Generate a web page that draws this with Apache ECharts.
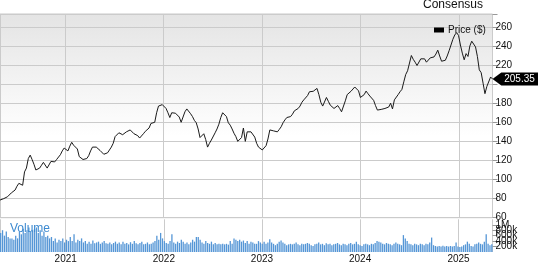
<!DOCTYPE html>
<html>
<head>
<meta charset="utf-8">
<script src="https://cdn.jsdelivr.net/npm/echarts@6/dist/echarts.min.js"></script>
<style>html,body{margin:0;padding:0;background:#fff}#c{width:538px;height:264px}</style>
</head>
<body>
<div id="c"></div>
<script>
// Weekly series starting on this date (UTC)
const startDate = '2020-05-04';
const priceValues = [
78.5,79,80,81,82,84,86,87.5,89,93,96,97,94,108,112,122,125.6,121,116,110,
109,112,115,118,117,112,111,119,118,118.5,121,123,126,130,133,134,130,135,139,136,
137,132,124,122,121,121,122,125,130,134,134.5,134,132,130.5,129,126.5,126.5,128,131,134,
138,145,147,149,148,147,148,150,149,152,151,148,147,146,143.5,145,148,150.5,152,154,
158.8,160.5,160,170,177,176,178.5,176.5,174.5,170,165,170,171,169.5,168,165.5,160,162,171,174,
172.5,169,166,162,159.5,153,144,145,148,142,134,138,141.4,143,149,153,158,165,170,172,
166,159.5,157,153,148.5,145,140,140.6,144,154,140,150,151,150,148,144.5,138,134,132.7,131,
132,135.5,142.5,152,152.5,151,149,150,152.5,155.3,159.5,162.5,165,165.5,166,168.5,172,174,174.5,177,
181,183.5,185.5,188,192,193,192.5,193.5,195.5,189,181,177,176,186,182,178,177,174.5,174,177.5,
174.5,171,172,182.5,189,191,192.5,193.5,197,196,193,186,184.5,189,192.7,190,187.5,186,183,177.5,
172.8,173,173.5,174,174.5,173.5,176,180,174,183.5,185,189,192,194.5,202.4,210,214,215,230,226,
223,219.5,218.5,226.5,227.5,226.5,223,224,227.5,227.5,228.5,231.5,235.6,229.5,224,224,225,229.5,235,241,
247,251.5,254,251,241,232.5,225.5,232,229,240,245,245,239,229,215,212,201,190,197.5,199,
207.5,205.35
];
const volumeValues = [
0.7,0.8,0.6,0.75,0.55,0.5,0.5,0.45,0.6,0.5,0.75,0.65,0.85,0.7,0.8,0.9,0.75,0.8,0.85,0.9,
0.7,0.8,0.6,0.75,0.55,0.6,0.5,0.55,0.4,0.5,0.35,0.45,0.4,0.5,0.35,0.45,0.4,0.55,0.4,0.65,
0.35,0.45,0.4,0.5,0.35,0.4,0.3,0.38,0.3,0.42,0.32,0.35,0.38,0.3,0.35,0.4,0.32,0.3,0.35,0.28,
0.33,0.38,0.3,0.35,0.28,0.38,0.3,0.33,0.28,0.36,0.3,0.4,0.32,0.28,0.33,0.38,0.28,0.3,0.35,0.28,
0.3,0.35,0.4,0.6,0.45,0.7,0.5,0.4,0.33,0.3,0.4,0.65,0.35,0.3,0.38,0.33,0.45,0.38,0.3,0.35,
0.28,0.35,0.45,0.38,0.55,0.55,0.45,0.35,0.3,0.4,0.33,0.3,0.38,0.28,0.33,0.28,0.3,0.28,0.3,0.28,
0.3,0.27,0.4,0.3,0.5,0.45,0.4,0.45,0.38,0.42,0.33,0.4,0.3,0.38,0.35,0.3,0.3,0.4,0.35,0.3,
0.38,0.3,0.35,0.47,0.35,0.3,0.25,0.3,0.38,0.42,0.35,0.3,0.25,0.28,0.3,0.28,0.3,0.35,0.28,0.25,
0.3,0.28,0.3,0.33,0.3,0.25,0.22,0.28,0.3,0.35,0.28,0.3,0.25,0.32,0.28,0.3,0.25,0.28,0.3,0.33,
0.28,0.25,0.3,0.28,0.25,0.3,0.33,0.28,0.3,0.38,0.28,0.25,0.22,0.28,0.3,0.28,0.25,0.3,0.28,0.33,
0.4,0.38,0.35,0.3,0.28,0.33,0.3,0.28,0.25,0.3,0.35,0.3,0.28,0.25,0.62,0.5,0.4,0.3,0.28,0.25,
0.3,0.28,0.25,0.3,0.28,0.25,0.3,0.28,0.35,0.53,0.25,0.22,0.2,0.22,0.2,0.23,0.2,0.22,0.2,0.22,
0.2,0.22,0.35,0.2,0.18,0.2,0.25,0.28,0.38,0.3,0.22,0.2,0.28,0.3,0.35,0.3,0.28,0.38,0.65,0.3,
0.25,0.28
]; // millions of shares
const priceTicks = [60, 80, 100, 120, 140, 160, 180, 200, 220, 240, 260];
const volumeTicks = [0, 200000, 400000, 600000, 800000, 1000000, 1200000];
const yearLabels = ['2021', '2022', '2023', '2024', '2025'];

const WEEK = 7 * 86400000;
const t0 = Date.parse(startDate + 'T00:00:00Z');
const dates = priceValues.map((_, i) => t0 + i * WEEK);
const priceData = priceValues.map((v, i) => [dates[i], v]);
const volData = volumeValues.map((v, i) => [dates[i], v * 1e6]);
const lastT = dates[dates.length - 1];
const lastV = priceValues[priceValues.length - 1];

const FONT = 'Liberation Sans, Arial, sans-serif';
const chart = echarts.init(document.getElementById('c'), null, {renderer: 'canvas'});
const volFmt = v => v === 0 ? '0' : (v >= 1e6 ? (v / 1e6) + 'M' : (v / 1e3) + 'k');

chart.setOption({
  useUTC: true,
  animation: false,
  textStyle: {fontFamily: FONT},
  legend: {
    data: ['Price ($)'], left: 429, top: 20, icon: 'rect', itemWidth: 10, itemHeight: 5, itemGap: 5,
    textStyle: {fontSize: 10, color: '#111', fontFamily: FONT, padding: [0, 0, 0, -1]}
  },
  graphic: [
    {type: 'text', x: 483, y: 5, style: {text: 'Consensus', font: '12px ' + FONT, fill: '#111', align: 'right', verticalAlign: 'middle'}},
    {type: 'text', x: 10, y: 229, style: {text: 'Volume', font: '12px ' + FONT, fill: '#3d8ad0', align: 'left', verticalAlign: 'middle'}, z: 100}
  ],
  grid: [
    {left: 0, right: 45.5, top: 14, height: 203.7, show: true, borderColor: '#c8c8c8', borderWidth: 1,
     backgroundColor: {type: 'linear', x: 0, y: 0, x2: 0, y2: 1, colorStops: [{offset: 0, color: '#e4e4e4'}, {offset: 0.6, color: '#ffffff'}, {offset: 1, color: '#ffffff'}]}},
    {left: 0, right: 45.5, top: 219.3, height: 34, show: false}
  ],
  xAxis: [
    {type: 'time', gridIndex: 0, min: dates[0], max: lastT, splitNumber: 5,
     axisLine: {show: false}, axisTick: {show: false}, axisLabel: {show: false},
     splitLine: {show: true, lineStyle: {color: '#cbcbcb', width: 1}}},
    {type: 'time', gridIndex: 1, min: dates[0], max: lastT, splitNumber: 5,
     axisLine: {show: false}, axisTick: {show: false},
     axisLabel: {show: true, fontSize: 10, color: '#111', margin: 2, fontFamily: FONT,
       formatter: v => { const y = String(new Date(v).getUTCFullYear()); return yearLabels.includes(y) ? y : ''; }},
     splitLine: {show: true, lineStyle: {color: '#cbcbcb', width: 1}}}
  ],
  yAxis: [
    {type: 'value', gridIndex: 0, position: 'right', min: priceTicks[0], max: 273.5, interval: 20,
     axisLine: {show: false}, axisTick: {show: true, length: 5, lineStyle: {color: '#999'}},
     axisLabel: {fontSize: 10, color: '#111', margin: 3, fontFamily: FONT,
       formatter: v => (priceTicks.includes(v) && Math.abs(v - lastV) > 8) ? String(v) : ''},
     splitLine: {show: true, lineStyle: {color: '#cbcbcb', width: 1}}},
    {type: 'value', gridIndex: 1, position: 'right', min: volumeTicks[0], max: volumeTicks[volumeTicks.length - 1], interval: 200000,
     axisLine: {show: false}, axisTick: {show: true, length: 5, lineStyle: {color: '#999'}},
     axisLabel: {fontSize: 10, color: '#111', margin: 3, fontFamily: FONT, formatter: volFmt},
     splitLine: {show: false}}
  ],
  series: [
    {name: 'Price ($)', type: 'line', xAxisIndex: 0, yAxisIndex: 0, data: priceData, showSymbol: false, symbol: 'none',
     lineStyle: {color: '#1a1a1a', width: 1}, itemStyle: {color: '#000'}, z: 5,
     markPoint: {
       silent: true,
       symbol: 'path://M0,7L9,0L47,0L47,14L9,14Z', symbolSize: [46, 13], symbolOffset: [23, 0],
       itemStyle: {color: '#000'},
       label: {show: true, color: '#fff', fontSize: 10, fontFamily: FONT, offset: [4, 0], formatter: () => lastV.toFixed(2)},
       data: [{coord: [lastT, lastV], value: lastV}]
     }},
    {name: 'Volume', type: 'bar', xAxisIndex: 1, yAxisIndex: 1, data: volData, barWidth: 1.3,
     itemStyle: {color: '#5596d6'}}
  ]
});
</script>
</body>
</html>
